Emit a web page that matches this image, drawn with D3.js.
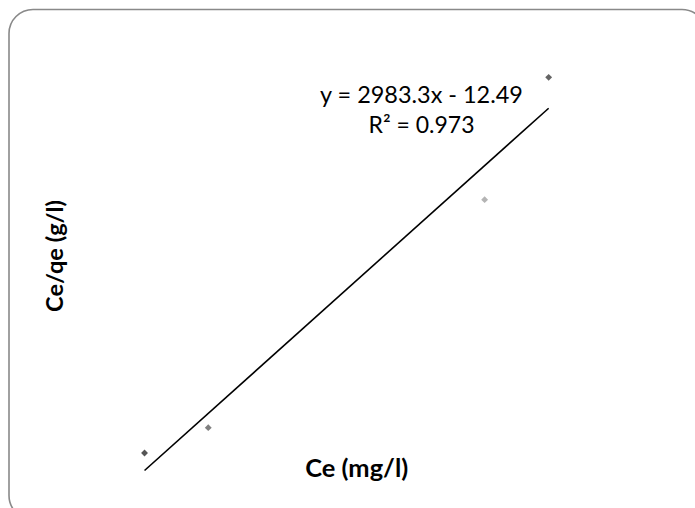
<!DOCTYPE html>
<html>
<head>
<meta charset="utf-8">
<script src="https://cdn.jsdelivr.net/npm/d3@7"></script>
<style>
  html, body { margin: 0; padding: 0; background: #ffffff; }
  svg { display: block; }
</style>
</head>
<body>
<div id="chart"></div>
<script>
// ---- data ----
const ceValues = [0.0065, 0.00855, 0.01744, 0.0195];      // Ce
const ceQeValues = [8.82, 11.53, 35.89, 48.96];           // Ce/qe
const pointColors = ["#555555", "#808080", "#b4b4b4", "#646464"];
const equationLabels = ["y = 2983.3x - 12.49", "R\u00B2 = 0.973"];
const xTitle = "Ce (mg/l)";
const yTitle = "Ce/qe (g/l)";

const W = 695, H = 508;
const svg = d3.select("#chart").append("svg").attr("width", W).attr("height", H);

// chart border
svg.append("rect")
  .attr("x", 9).attr("y", 9.5)
  .attr("width", 697).attr("height", 510)
  .attr("rx", 24).attr("ry", 24)
  .attr("fill", "#ffffff")
  .attr("stroke", "#898989").attr("stroke-width", 1.6);

const x = d3.scaleLinear().domain([0.005, 0.02]).range([97.9, 564.2]);
const y = d3.scaleLinear().domain([5, 50]).range([488.8, 67.6]);

// linear regression trendline
const n = ceValues.length;
const mx = d3.mean(ceValues), my = d3.mean(ceQeValues);
let sxy = 0, sxx = 0;
for (let i = 0; i < n; i++) {
  sxy += (ceValues[i] - mx) * (ceQeValues[i] - my);
  sxx += (ceValues[i] - mx) ** 2;
}
const slope = sxy / sxx, intercept = my - slope * mx;
const [xmin, xmax] = d3.extent(ceValues);
const trend = [xmin, xmax].map(v => [v, slope * v + intercept]);

svg.append("path")
  .datum(trend)
  .attr("d", d3.line().x(d => x(d[0])).y(d => y(d[1])))
  .attr("stroke", "#000").attr("stroke-width", 1.6).attr("fill", "none");

// markers (diamonds)
const diamond = d3.symbol().type(d3.symbolDiamond2).size(30);
svg.selectAll("path.pt")
  .data(ceValues.map((v, i) => ({ x: v, y: ceQeValues[i], c: pointColors[i] })))
  .enter().append("path")
  .attr("class", "pt")
  .attr("d", diamond)
  .attr("transform", d => `translate(${x(d.x)},${y(d.y)})`)
  .attr("fill", d => d.c);

// equation labels
const fontFam = "Lato, 'Open Sans', sans-serif";
const eq = svg.append("text")
  .attr("x", 421.5).attr("y", 102.5)
  .attr("text-anchor", "middle")
  .attr("font-family", fontFam).attr("font-size", 22)
  .attr("fill", "#000")
  .text(equationLabels[0]);
const r2 = svg.append("text")
  .attr("x", 421.5).attr("y", 133.3)
  .attr("text-anchor", "middle")
  .attr("font-family", fontFam).attr("font-size", 22)
  .attr("fill", "#000")
  .text(equationLabels[1]);

// fit widths
function fit(sel, target) {
  const w = sel.node().getComputedTextLength();
  const fs = parseFloat(sel.attr("font-size"));
  sel.attr("font-size", fs * target / w);
}
fit(eq, 203);
fit(r2, 106);

// axis titles
const xt = svg.append("text")
  .attr("x", 356.7).attr("y", 477.3)
  .attr("text-anchor", "middle")
  .attr("font-family", fontFam).attr("font-weight", "bold").attr("font-size", 20)
  .attr("fill", "#000")
  .text(xTitle);
fit(xt, 103);

const yt = svg.append("text")
  .attr("transform", "translate(63.3,256) rotate(-90)")
  .attr("text-anchor", "middle")
  .attr("font-family", fontFam).attr("font-weight", "bold").attr("font-size", 20)
  .attr("fill", "#000")
  .text(yTitle);
fit(yt, 112);
</script>
</body>
</html>
